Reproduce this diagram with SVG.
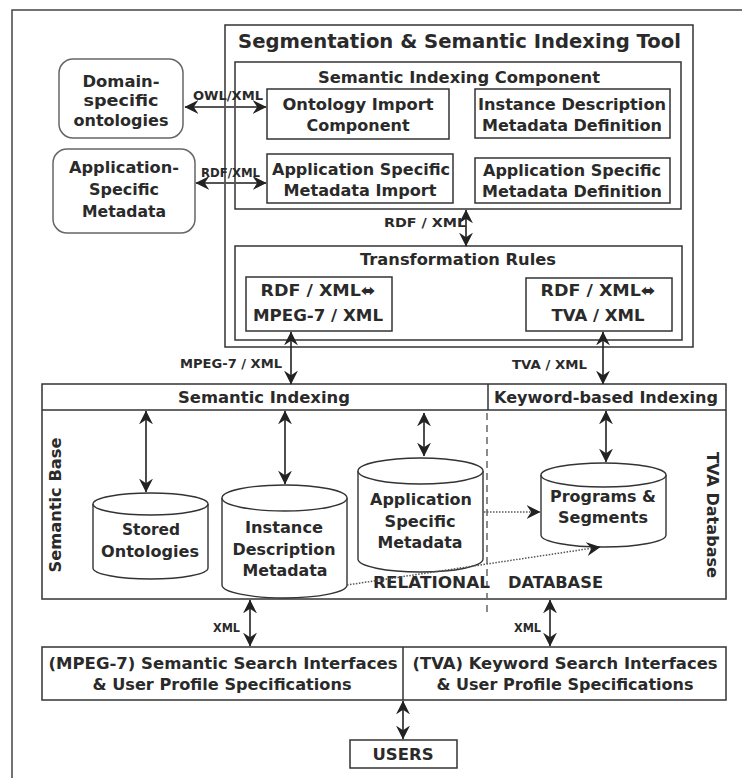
<svg xmlns="http://www.w3.org/2000/svg" width="742" height="778" viewBox="0 0 742 778">
  <style>
    .box { fill: #fff; stroke: #333; stroke-width: 1.5; }
    .rbox { fill: #fff; stroke: #666; stroke-width: 1.5; }
    .line { fill: none; stroke: #333; stroke-width: 1.5; }
    .cyl { fill: #fff; stroke: #333; stroke-width: 1.4; }
    .t { font-family: "DejaVu Sans", "Liberation Sans", sans-serif; font-weight: bold; fill: #2a2a2a; }
    .c { text-anchor: middle; }
    .s16 { font-size: 16px; }
    .s13 { font-size: 13px; }
    .s12 { font-size: 12px; }
    .arr { fill: none; stroke: #222; stroke-width: 1.6; marker-start: url(#ah); marker-end: url(#ah); }
    .arrg { fill: none; stroke: #555; stroke-width: 2; marker-start: url(#ah); marker-end: url(#ah); }
    .dot { fill: none; stroke: #555; stroke-width: 1.5; stroke-dasharray: 1.5 1.5; marker-end: url(#ah); }
    .dash { fill: none; stroke: #666; stroke-width: 1.5; stroke-dasharray: 7 5; }
  </style>
  <defs>
    <marker id="ah" viewBox="0 0 12 12" refX="11.5" refY="6" markerWidth="14" markerHeight="14" markerUnits="userSpaceOnUse" orient="auto-start-reverse">
      <path d="M0,0 L12,6 L0,12 L4,6 Z" fill="#222"/>
    </marker>
  </defs>

  <rect width="742" height="778" fill="#fff"/>
  <!-- page frame -->
  <rect x="12" y="10" width="760" height="800" fill="none" stroke="#444" stroke-width="1.5"/>

  <!-- external sources -->
  <g id="domain-ontologies">
    <rect class="rbox" x="59" y="59" width="124" height="79" rx="14"/>
    <text class="t s16 c" x="121" y="87" textLength="77" lengthAdjust="spacingAndGlyphs">Domain-</text>
    <text class="t s16 c" x="121" y="106" textLength="75" lengthAdjust="spacingAndGlyphs">specific</text>
    <text class="t s16 c" x="121" y="126" textLength="95" lengthAdjust="spacingAndGlyphs">ontologies</text>
  </g>
  <g id="application-metadata">
    <rect class="rbox" x="53" y="149" width="142" height="84" rx="14"/>
    <text class="t s16 c" x="124" y="173" textLength="110" lengthAdjust="spacingAndGlyphs">Application-</text>
    <text class="t s16 c" x="124" y="195" textLength="70" lengthAdjust="spacingAndGlyphs">Specific</text>
    <text class="t s16 c" x="124" y="217" textLength="84" lengthAdjust="spacingAndGlyphs">Metadata</text>
  </g>

  <!-- segmentation & semantic indexing tool -->
  <g id="indexing-tool">
    <rect class="box" x="225" y="25" width="468" height="322"/>
    <text class="t" x="238" y="48" font-size="20" textLength="443" lengthAdjust="spacingAndGlyphs">Segmentation &amp; Semantic Indexing Tool</text>
  </g>
  <g id="semantic-indexing-component">
    <rect class="box" x="235" y="62" width="446" height="147"/>
    <text class="t s16 c" x="459" y="83" textLength="282" lengthAdjust="spacingAndGlyphs">Semantic Indexing Component</text>
  </g>
  <g id="ontology-import">
    <rect class="box" x="267" y="89" width="182" height="50"/>
    <text class="t s16 c" x="358" y="110" textLength="151" lengthAdjust="spacingAndGlyphs">Ontology Import</text>
    <text class="t s16 c" x="358" y="131">Component</text>
  </g>
  <g id="app-metadata-import">
    <rect class="box" x="267" y="154" width="186" height="49"/>
    <text class="t s16 c" x="361" y="175" textLength="178" lengthAdjust="spacingAndGlyphs">Application Specific</text>
    <text class="t s16 c" x="360" y="196" textLength="153" lengthAdjust="spacingAndGlyphs">Metadata Import</text>
  </g>
  <g id="instance-metadata-definition">
    <rect class="box" x="475" y="89" width="195" height="49"/>
    <text class="t s16 c" x="572" y="110" textLength="188" lengthAdjust="spacingAndGlyphs">Instance Description</text>
    <text class="t s16 c" x="572" y="131" textLength="180" lengthAdjust="spacingAndGlyphs">Metadata Definition</text>
  </g>
  <g id="app-metadata-definition">
    <rect class="box" x="475" y="158" width="195" height="45"/>
    <text class="t s16 c" x="572" y="176" textLength="178" lengthAdjust="spacingAndGlyphs">Application Specific</text>
    <text class="t s16 c" x="572" y="197" textLength="180" lengthAdjust="spacingAndGlyphs">Metadata Definition</text>
  </g>
  <g id="transformation-rules">
    <rect class="box" x="235" y="246" width="447" height="94"/>
    <text class="t s16 c" x="458" y="265" textLength="196" lengthAdjust="spacingAndGlyphs">Transformation Rules</text>
  </g>
  <g id="rdf-to-mpeg7">
    <rect class="box" x="246" y="277" width="146" height="54"/>
    <text class="t s16 c" x="318" y="296" textLength="115" lengthAdjust="spacingAndGlyphs">RDF / XML⬌</text>
    <text class="t s16 c" x="318" y="321" textLength="130" lengthAdjust="spacingAndGlyphs">MPEG-7 / XML</text>
  </g>
  <g id="rdf-to-tva">
    <rect class="box" x="526" y="278" width="146" height="53"/>
    <text class="t s16 c" x="598" y="296" textLength="115" lengthAdjust="spacingAndGlyphs">RDF / XML⬌</text>
    <text class="t s16 c" x="598" y="321" textLength="93" lengthAdjust="spacingAndGlyphs">TVA / XML</text>
  </g>

  <!-- relational database -->
  <g id="relational-database">
    <rect class="box" x="42" y="384" width="684" height="215"/>
    <line class="line" x1="42" y1="410" x2="726" y2="410"/>
    <line class="line" x1="488" y1="384" x2="488" y2="410"/>
    <line class="dash" x1="487" y1="413" x2="487" y2="616"/>
    <text class="t s16 c" x="264" y="403" textLength="172" lengthAdjust="spacingAndGlyphs">Semantic Indexing</text>
    <text class="t s16 c" x="606" y="403" textLength="224" lengthAdjust="spacingAndGlyphs">Keyword-based Indexing</text>
    <text class="t s16 c" transform="translate(61 505) rotate(-90)" textLength="135" lengthAdjust="spacingAndGlyphs">Semantic Base</text>
    <text class="t s16 c" transform="translate(707 515) rotate(90)" textLength="126" lengthAdjust="spacingAndGlyphs">TVA Database</text>
    <text class="t s16" x="373" y="588" textLength="117" lengthAdjust="spacingAndGlyphs">RELATIONAL</text>
    <text class="t s16" x="508" y="588" textLength="95" lengthAdjust="spacingAndGlyphs">DATABASE</text>
  </g>
  <g id="stored-ontologies">
    <path class="cyl" d="M93,504 L93,568 A57.5,11 0 0 0 208,568 L208,504"/>
    <ellipse class="cyl" cx="150.5" cy="504" rx="57.5" ry="11"/>
    <text class="t s16 c" x="151" y="535" textLength="58" lengthAdjust="spacingAndGlyphs">Stored</text>
    <text class="t s16 c" x="150" y="557" textLength="98" lengthAdjust="spacingAndGlyphs">Ontologies</text>
  </g>
  <g id="instance-metadata">
    <path class="cyl" d="M222,498 L222,585 A62.5,13 0 0 0 347,585 L347,498"/>
    <ellipse class="cyl" cx="284.5" cy="498" rx="62.5" ry="13"/>
    <text class="t s16 c" x="284" y="533" textLength="78" lengthAdjust="spacingAndGlyphs">Instance</text>
    <text class="t s16 c" x="284" y="555" textLength="103" lengthAdjust="spacingAndGlyphs">Description</text>
    <text class="t s16 c" x="285" y="576" textLength="85" lengthAdjust="spacingAndGlyphs">Metadata</text>
  </g>
  <g id="app-specific-metadata">
    <path class="cyl" d="M358,471 L358,559 A62.5,13 0 0 0 483,559 L483,471"/>
    <ellipse class="cyl" cx="420.5" cy="471" rx="62.5" ry="13"/>
    <text class="t s16 c" x="421" y="505" textLength="102" lengthAdjust="spacingAndGlyphs">Application</text>
    <text class="t s16 c" x="420" y="527" textLength="71" lengthAdjust="spacingAndGlyphs">Specific</text>
    <text class="t s16 c" x="420" y="548" textLength="85" lengthAdjust="spacingAndGlyphs">Metadata</text>
  </g>
  <g id="programs-segments">
    <path class="cyl" d="M541,475 L541,535 A62.5,12 0 0 0 666,535 L666,475"/>
    <ellipse class="cyl" cx="603.5" cy="475" rx="62.5" ry="12"/>
    <text class="t s16 c" x="603" y="502" textLength="106" lengthAdjust="spacingAndGlyphs">Programs &amp;</text>
    <text class="t s16 c" x="603" y="523" textLength="90" lengthAdjust="spacingAndGlyphs">Segments</text>
  </g>

  <!-- user interfaces -->
  <g id="search-interfaces">
    <rect class="box" x="42" y="647" width="684" height="53"/>
    <line class="line" x1="403" y1="647" x2="403" y2="700"/>
    <text class="t c" font-size="16" x="223" y="669" textLength="349" lengthAdjust="spacingAndGlyphs">(MPEG-7) Semantic Search Interfaces</text>
    <text class="t c" font-size="16" x="222" y="690" textLength="259" lengthAdjust="spacingAndGlyphs">&amp; User Profile Specifications</text>
    <text class="t c" font-size="16" x="565" y="669" textLength="305" lengthAdjust="spacingAndGlyphs">(TVA) Keyword Search Interfaces</text>
    <text class="t c" font-size="16" x="565" y="690" textLength="257" lengthAdjust="spacingAndGlyphs">&amp; User Profile Specifications</text>
  </g>
  <g id="users">
    <rect class="box" x="350" y="740" width="107" height="28"/>
    <text class="t s16 c" x="403" y="760" textLength="61" lengthAdjust="spacingAndGlyphs">USERS</text>
  </g>

  <!-- connectors -->
  <g id="connectors">
    <line class="arrg" x1="185" y1="107" x2="266" y2="107"/>
    <text class="t s12" x="193" y="100" textLength="70" lengthAdjust="spacingAndGlyphs">OWL/XML</text>
    <line class="arrg" x1="196" y1="183" x2="266" y2="183"/>
    <text class="t s12" x="201" y="177" textLength="59" lengthAdjust="spacingAndGlyphs">RDF/XML</text>

    <line class="arr" x1="466" y1="210" x2="466" y2="246"/>
    <text class="t s13" x="384" y="227" textLength="82" lengthAdjust="spacingAndGlyphs">RDF / XML</text>

    <line class="arr" x1="291" y1="332" x2="291" y2="384"/>
    <text class="t s13" x="180" y="368" textLength="102" lengthAdjust="spacingAndGlyphs">MPEG-7 / XML</text>
    <line class="arr" x1="603" y1="332" x2="603" y2="384"/>
    <text class="t s13" x="512" y="369" textLength="75" lengthAdjust="spacingAndGlyphs">TVA / XML</text>

    <line class="arr" x1="146" y1="411" x2="146" y2="492"/>
    <line class="arr" x1="285" y1="411" x2="285" y2="484"/>
    <line class="arr" x1="424" y1="413" x2="424" y2="456"/>
    <line class="arr" x1="606" y1="411" x2="606" y2="462"/>

    <line class="dot" x1="484" y1="512" x2="540" y2="512"/>
    <line class="dot" x1="347" y1="585" x2="600" y2="547"/>

    <line class="arr" x1="250" y1="600" x2="250" y2="646"/>
    <text class="t s12" x="213" y="632" textLength="27" lengthAdjust="spacingAndGlyphs">XML</text>
    <line class="arr" x1="550" y1="600" x2="550" y2="646"/>
    <text class="t s12" x="514" y="632" textLength="27" lengthAdjust="spacingAndGlyphs">XML</text>

    <line class="arr" x1="403" y1="701" x2="403" y2="739"/>
  </g>
</svg>
